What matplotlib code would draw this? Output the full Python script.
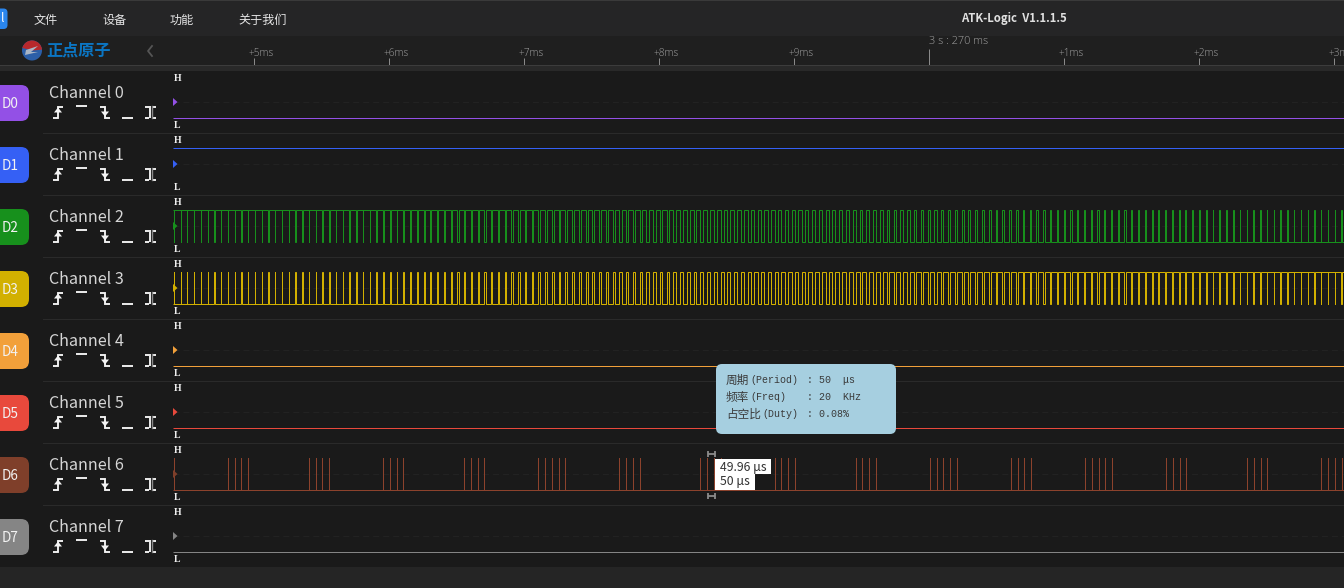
import matplotlib
matplotlib.use("Agg")
import matplotlib.pyplot as plt
from matplotlib.patches import Rectangle, FancyBboxPatch, Polygon, Wedge, Circle

plt.rcParams['path.simplify'] = False
CJK = ['Noto Sans CJK SC', 'DejaVu Sans']
MONO = ['Liberation Mono', 'Noto Sans CJK SC']

# ---- data ----
channels = ["D0", "D1", "D2", "D3", "D4", "D5", "D6", "D7"]
channel_names = ["Channel 0", "Channel 1", "Channel 2", "Channel 3",
                 "Channel 4", "Channel 5", "Channel 6", "Channel 7"]
channel_colors = ["#9350e6", "#3560f5", "#17901c", "#d2b000",
                  "#f2a03a", "#e8493c", "#7f3f2a", "#858585"]
idle_levels = {"D0": 0, "D1": 1, "D4": 0, "D5": 0, "D7": 0}

menu_labels = ["文件", "设备", "功能", "关于我们"]
ruler_ticks_ms = [-5, -4, -3, -2, -1, 1, 2, 3]
ruler_labels = ["+5ms", "+6ms", "+7ms", "+8ms", "+9ms", "+1ms", "+2ms", "+3ms"]
origin_ms = 0
origin_label = "3 s : 270 ms"

pwm_rise_ms = [
    -5.59, -5.54, -5.49, -5.44, -5.39, -5.34, -5.29, -5.24, -5.19, -5.14,
    -5.09, -5.04, -4.99, -4.94, -4.89, -4.84, -4.79, -4.74, -4.69, -4.64,
    -4.59, -4.54, -4.49, -4.44, -4.39, -4.34, -4.29, -4.24, -4.19, -4.14,
    -4.09, -4.04, -3.99, -3.94, -3.89, -3.84, -3.79, -3.74, -3.69, -3.64,
    -3.59, -3.54, -3.49, -3.44, -3.39, -3.34, -3.29, -3.24, -3.19, -3.14,
    -3.09, -3.04, -2.99, -2.94, -2.89, -2.84, -2.79, -2.74, -2.69, -2.64,
    -2.59, -2.54, -2.49, -2.44, -2.39, -2.34, -2.29, -2.24, -2.19, -2.14,
    -2.09, -2.04, -1.99, -1.94, -1.89, -1.84, -1.79, -1.74, -1.69, -1.64,
    -1.59, -1.54, -1.49, -1.44, -1.39, -1.34, -1.29, -1.24, -1.19, -1.14,
    -1.09, -1.04, -0.99, -0.94, -0.89, -0.84, -0.79, -0.74, -0.69, -0.64,
    -0.59, -0.54, -0.49, -0.44, -0.39, -0.34, -0.29, -0.24, -0.19, -0.14,
    -0.09, -0.04, 0.01, 0.06, 0.11, 0.16, 0.21, 0.26, 0.31, 0.36,
    0.41, 0.46, 0.51, 0.56, 0.61, 0.66, 0.71, 0.76, 0.81, 0.86,
    0.91, 0.96, 1.01, 1.06, 1.11, 1.16, 1.21, 1.26, 1.31, 1.36,
    1.41, 1.46, 1.51, 1.56, 1.61, 1.66, 1.71, 1.76, 1.81, 1.86,
    1.91, 1.96, 2.01, 2.06, 2.11, 2.16, 2.21, 2.26, 2.31, 2.36,
    2.41, 2.46, 2.51, 2.56, 2.61, 2.66, 2.71, 2.76, 2.81, 2.86,
    2.91, 2.96, 3.01, 3.06]
pwm_duty_pct = [
    0, 0, 0, 1, 1, 1, 1, 2, 2, 2,
    2, 2, 3, 3, 3, 3, 4, 4, 4, 5,
    5, 5, 6, 6, 6, 7, 7, 8, 8, 9,
    9, 10, 10, 11, 11, 12, 12, 13, 13, 14,
    15, 15, 16, 16, 17, 18, 18, 19, 20, 20,
    21, 22, 22, 23, 23, 24, 25, 25, 26, 26,
    27, 28, 28, 29, 30, 31, 31, 32, 33, 34,
    34, 35, 36, 36, 37, 38, 39, 39, 40, 41,
    42, 42, 43, 44, 45, 45, 46, 47, 47, 48,
    49, 50, 50, 51, 52, 53, 53, 54, 55, 55,
    56, 57, 58, 58, 59, 60, 61, 61, 62, 63,
    64, 64, 65, 66, 66, 67, 68, 69, 69, 70,
    71, 72, 72, 73, 74, 74, 75, 76, 77, 77,
    78, 79, 80, 80, 81, 81, 81, 82, 82, 82,
    82, 83, 83, 83, 83, 84, 84, 84, 84, 85,
    85, 86, 86, 87, 87, 88, 89, 89, 90, 90,
    91, 91, 92, 92, 93, 93, 94, 95, 95, 96,
    96, 97, 97, 98]
pwm_period_ms = 0.05

d6_pulses_ms = [
    -5.59,
    -5.19, -5.14, -5.09, -5.04,
    -4.59, -4.54, -4.49, -4.44,
    -4.04, -3.99, -3.94, -3.89,
    -3.44, -3.39, -3.34, -3.29,
    -2.89, -2.84, -2.79, -2.74, -2.69,
    -2.29, -2.24, -2.19, -2.14,
    -1.69, -1.64, -1.59, -1.54,
    -1.14, -1.09, -1.04, -0.99,
    -0.54, -0.49, -0.44, -0.39,
    0.01, 0.06, 0.11, 0.16, 0.21,
    0.61, 0.66, 0.71, 0.76,
    1.16, 1.21, 1.26, 1.31, 1.36,
    1.76, 1.81, 1.86, 1.91,
    2.36, 2.41, 2.46, 2.51,
    2.91, 2.96, 3.01, 3.06]

tooltip_cjk = ["周期", "频率", "占空比"]
tooltip_latin = ["(Period)", "(Freq)", "(Duty)"]
tooltip_values = [": 50  μs", ": 20  KHz", ": 0.08%"]
measure_labels = ["49.96 μs", "50 μs"]

# ---- layout ----
W, H = 1344, 588
ROW_H = 62
PX = 0.719  # one device pixel, in points
fig = plt.figure(figsize=(W / 100, H / 100), dpi=100, facecolor="#1a1a1a")

bg = fig.add_axes([0, 0, 1, 1], zorder=0)
bg.set_xlim(0, W); bg.set_ylim(H, 0); bg.axis("off")
over = fig.add_axes([0, 0, 1, 1], zorder=5)
over.set_xlim(0, W); over.set_ylim(H, 0); over.axis("off"); over.patch.set_alpha(0)


def rect(ax, x0, y0, x1, y1, c, **kw):
    ax.add_patch(Rectangle((x0, y0), x1 - x0, y1 - y0, fc=c, ec="none", lw=0, **kw))


rect(bg, 0, 0, W, 36, "#252526")
rect(bg, 0, 0, W, 1, "#3a3a3a")
rect(bg, 0, 36, W, 65, "#1f1f1f")
rect(bg, 0, 65, W, 66, "#3c3c3c")
rect(bg, 0, 66, W, 71, "#292929")
rect(bg, 0, 567, W, H, "#252525")
for i in range(1, 8):
    y = 71 + ROW_H * i
    rect(bg, 43, y + 0, W, y + 1, "#2a2a2a")

# menu
for lab, x in zip(menu_labels, [34, 102, 170, 238]):
    over.text(x, 20.5, lab, family=CJK, fontsize=8.7, fontweight="medium",
              color="#e6e6e6", va="center", ha="left")
over.text(1014, 18.5, "ATK-Logic  V1.1.1.5", family=CJK, fontsize=8.2,
          fontweight="bold", color="#e0e0e0", va="center", ha="center")
over.add_patch(FancyBboxPatch((-10, 8.5), 17.5, 20.5, boxstyle="round,pad=0,rounding_size=4",
                              fc="#2a86ee", ec="none"))
over.text(2.5, 19, "l", family=CJK, fontsize=8.5, color="white", va="center", ha="center")

# logo
over.add_patch(Circle((32, 50.5), 10, fc="#2c5fa8", ec="none"))
over.add_patch(Wedge((32, 50.5), 10, 195, 355, fc="#b8282c", ec="none"))
over.add_patch(Polygon([[26, 50], [38, 46], [31, 52], [38, 52], [25, 55]], fc="#aab6c6", ec="none"))
over.text(46, 50.5, "正点原子", family=CJK, fontsize=11.6, fontweight="bold",
          color="#0b76c4", va="center", ha="left")
over.plot([152, 148, 152], [46, 51, 56], color="#555555", lw=1.3)

# ruler in ms
LEFT, RIGHT = 173, W
TOP_R, BOT_R = 36, 65
ms_at = lambda px: (px - 928.6) / 135.0
ruler = fig.add_axes([LEFT / W, 1 - BOT_R / H, (RIGHT - LEFT) / W, (BOT_R - TOP_R) / H], zorder=3)
ruler.set_xlim(ms_at(LEFT), ms_at(RIGHT))
ruler.set_ylim(BOT_R, TOP_R)
ruler.axis("off"); ruler.patch.set_alpha(0)
ruler.vlines(ruler_ticks_ms, 58, 65, color="#8a8a8a", lw=PX)
ruler.vlines([origin_ms], 49, 65, color="#8a8a8a", lw=PX)
for t, lab in zip(ruler_ticks_ms, ruler_labels):
    ruler.text(t - 5 / 135, 53, lab, family="Open Sans", fontsize=7.3, color="#a0a0a0",
               va="center", ha="left", fontweight="light", clip_on=True)
ruler.text(origin_ms, 42, origin_label, family="Open Sans", fontsize=7.9, color="#a0a0a0",
           va="center", ha="left", fontweight="light")


def pwm_path(rise, duty):
    xs, ys = [ms_at(LEFT)], [0]
    for t, d in zip(rise, duty):
        w = pwm_period_ms * d / 100.0
        xs += [t, t, t + w, t + w]
        ys += [0, 1, 1, 0]
    xs.append(ms_at(RIGHT))
    ys.append(ys[-1])
    return xs, ys


def pulse_path(times):
    xs, ys = [ms_at(LEFT)], [0]
    for t in times:
        xs += [t, t, t]
        ys += [0, 1, 0]
    xs.append(ms_at(RIGHT))
    ys.append(0)
    return xs, ys


for i, (ch, name, col) in enumerate(zip(channels, channel_names, channel_colors)):
    top = 72 + ROW_H * i
    ax = fig.add_axes([LEFT / W, 1 - (top + ROW_H) / H, (RIGHT - LEFT) / W, ROW_H / H], zorder=2)
    ax.set_xlim(ms_at(LEFT), ms_at(RIGHT))
    ax.set_ylim(-(top + ROW_H - (118 + ROW_H * i)) / 32.0, 1 + (86 + ROW_H * i - top) / 32.0)
    ax.axis("off"); ax.patch.set_alpha(0)
    ax.plot([ms_at(LEFT), ms_at(RIGHT)], [0.5, 0.5], color="#222222", lw=PX, ls=(0, (6, 4)))
    line = dict(lw=PX, snap=True, solid_joinstyle="miter", solid_capstyle="butt")
    if ch in idle_levels:
        lv = idle_levels[ch]
        ax.plot([ms_at(LEFT), ms_at(RIGHT)], [lv, lv], color=col, **line)
    elif ch == "D2":
        xs, ys = pwm_path(pwm_rise_ms, pwm_duty_pct)
        ax.plot(xs, [1 - y for y in ys], color=col, **line)
    elif ch == "D3":
        xs, ys = pwm_path(pwm_rise_ms, pwm_duty_pct)
        ax.plot(xs, ys, color=col, **line)
    else:
        xs, ys = pulse_path(d6_pulses_ms)
        ax.plot(xs, ys, color="#8c422c", **line)

    o = ROW_H * i
    # badge
    over.add_patch(FancyBboxPatch((-12, 85 + o), 41, 36, boxstyle="round,pad=0,rounding_size=8",
                                  fc=col, ec="none"))
    over.text(10.5, 103.5 + o, ch, family=CJK, fontsize=9.8, fontweight="medium",
              color="#f2f2f2", va="center", ha="center")
    over.text(49, 93 + o, name, family=CJK, fontsize=11.6, fontweight="medium", color="#d6d6d6",
              va="center", ha="left")
    # trigger icons
    st = dict(color="#f4f4f4", lw=1.35, solid_capstyle="butt", solid_joinstyle="miter")
    over.plot([53, 58, 58, 63], [117.5 + o, 117.5 + o, 106.5 + o, 106.5 + o], **st)
    over.add_patch(Polygon([[54, 112.5 + o], [62, 112.5 + o], [58, 107.5 + o]], fc="#f4f4f4", ec="none"))
    over.plot([76, 87], [105.5 + o, 105.5 + o], **st)
    over.plot([100, 105, 105, 110], [106.5 + o, 106.5 + o, 117.5 + o, 117.5 + o], **st)
    over.add_patch(Polygon([[101, 111.5 + o], [109, 111.5 + o], [105, 116.5 + o]], fc="#f4f4f4", ec="none"))
    over.plot([122, 133], [117.5 + o, 117.5 + o], **st)
    over.plot([145, 149], [106.5 + o, 106.5 + o], **st)
    over.plot([152, 156], [106.5 + o, 106.5 + o], **st)
    over.plot([145, 149], [117.5 + o, 117.5 + o], **st)
    over.plot([152, 156], [117.5 + o, 117.5 + o], **st)
    over.plot([149.7, 149.7], [106 + o, 118 + o], **st)
    over.plot([151.7, 151.7], [106 + o, 118 + o], color="#8a8a8a", lw=1.0)
    # H / L
    for lab, y in (("H", 78.5 + o), ("L", 126 + o)):
        over.text(177.5, y, lab, family="Liberation Serif", fontsize=7.0, fontweight="bold",
                  color="#f0f0f0", va="center", ha="center")
    # entry arrow
    over.add_patch(Polygon([[173, 98 + o], [173, 106 + o], [177.5, 102 + o]], fc=col, ec="none"))

# tooltip
over.add_patch(FancyBboxPatch((716, 364), 180, 70, boxstyle="round,pad=0,rounding_size=6",
                              fc="#a6cfe0", ec="none"))
for j, y in enumerate([380, 397, 414]):
    over.text(726, y, tooltip_cjk[j], family=CJK, fontsize=8.4, color="#3a3a3a", va="center", ha="left")
    lx = 726 + 12 * len(tooltip_cjk[j])
    over.text(lx, y, tooltip_latin[j], family="Liberation Mono", fontsize=7.2, color="#3a3a3a",
              va="center", ha="left")
    over.text(807, y, tooltip_values[j], family=MONO, fontsize=7.2, color="#3a3a3a",
              va="center", ha="left")

# measure labels
rect(over, 715, 459, 771, 474, "#ffffff")
rect(over, 715, 474, 755, 490, "#ffffff")
over.text(720, 467, measure_labels[0], family=CJK, fontsize=8.8, color="#333333", va="center", ha="left")
over.text(720, 482, measure_labels[1], family=CJK, fontsize=8.8, color="#333333", va="center", ha="left")
# cursor caps
for y0, y1, ym in ((450.5, 456.5, 453.5), (492.5, 498.5, 495.5)):
    gs = dict(color="#8c8c8c", lw=1.3, solid_capstyle="butt")
    over.plot([707.5, 707.5], [y0, y1], **gs)
    over.plot([714.5, 714.5], [y0, y1], **gs)
    over.plot([707.5, 714.5], [ym, ym], **gs)

fig.savefig("out.png", dpi=100, facecolor=fig.get_facecolor())
